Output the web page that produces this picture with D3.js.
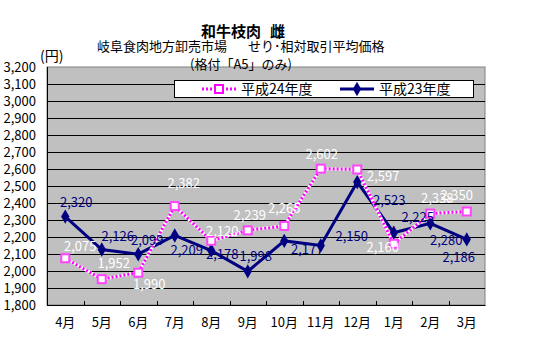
<!DOCTYPE html>
<html><head><meta charset="utf-8">
<script src="https://cdn.jsdelivr.net/npm/d3@7"></script>
<style>
html,body{margin:0;padding:0;background:#fff;}
svg{display:block;font-family:"Noto Sans CJK JP","Noto Sans",sans-serif;}
</style></head>
<body>
<script>
const months = ["4月","5月","6月","7月","8月","9月","10月","11月","12月","1月","2月","3月"];
const seriesNames = ["平成24年度","平成23年度"];
const values24 = [2075,1952,1990,2382,2178,2239,2265,2602,2597,2160,2338,2350];
const values23 = [2320,2126,2099,2209,2120,1998,2177,2150,2523,2225,2280,2186];
const labels24 = [2075,1952,1990,2382,2120,2239,2265,2602,2597,2160,2338,2350];
const labels23 = [2320,2126,2099,2209,2178,1998,2177,2150,2523,2225,2280,2186];
const yTicks = [1800,1900,2000,2100,2200,2300,2400,2500,2600,2700,2800,2900,3000,3100,3200];
const titleParts = ["和牛枝肉","雌"];
const subtitleParts = ["岐阜食肉地方卸売市場","せり･相対取引平均価格"];
const subtitle2 = "(格付「A5」のみ)";
const unitLabel = "(円)";

// label offsets (layout only)
const off24 = [[15,-12],[12,-16],[11,12],[9,-23],[11,-9],[2,-15],[0,-18],[1,-14],[26,7],[-11,4],[7,-15],[-10,-16]];
const off23 = [[11,-14],[16,-13],[9,-14],[12,15],[11,4],[8,-15],[23,8],[31,-9],[32,18],[24,-15],[16,17],[-8,18]];

const W=550,H=350;
const L=47,R=485,T=67,B=305;
const svg=d3.select("body").append("svg").attr("width",W).attr("height",H);
svg.append("rect").attr("width",W).attr("height",H).attr("fill","#fff");

const x=d3.scaleBand().domain(months).range([L,R]).padding(0);
const y=d3.scaleLinear().domain([1800,3200]).range([B,T]);
const cx=d=>x(d)+x.bandwidth()/2;

// plot area
svg.append("rect").attr("x",L).attr("y",T).attr("width",R-L).attr("height",B-T)
  .attr("fill","#C0C0C0").attr("stroke","#808080").attr("stroke-width",1);

// gridlines
svg.append("g").selectAll("line").data(yTicks.filter(v=>v>1800&&v<3200)).join("line")
  .attr("x1",L).attr("x2",R).attr("y1",d=>Math.round(y(d))+0.5).attr("y2",d=>Math.round(y(d))+0.5)
  .attr("stroke","#000").attr("stroke-width",1);

// axes lines
svg.append("line").attr("x1",L+0.5).attr("x2",L+0.5).attr("y1",T).attr("y2",B+0.5).attr("stroke","#000");
svg.append("line").attr("x1",L).attr("x2",R+0.5).attr("y1",B+0.5).attr("y2",B+0.5).attr("stroke","#000");

// x ticks (inside, at category boundaries)
svg.append("g").selectAll("line").data(months.slice(1)).join("line")
  .attr("x1",d=>Math.round(x(d))+0.5).attr("x2",d=>Math.round(x(d))+0.5)
  .attr("y1",B-4).attr("y2",B).attr("stroke","#000");

// y tick labels
svg.append("g").selectAll("text").data(yTicks).join("text")
  .attr("x",36).attr("y",d=>y(d)).attr("dy","0.36em").attr("text-anchor","end")
  .attr("font-size",13).attr("fill","#000").text(d=>d3.format(",")(d));

// x labels
svg.append("g").selectAll("text").data(months).join("text")
  .attr("x",d=>cx(d)).attr("y",322).attr("dy","0.36em").attr("text-anchor","middle")
  .attr("font-size",13).attr("fill","#000").text(d=>d);

// unit
svg.append("text").attr("x",40).attr("y",56).attr("dy","0.36em").attr("font-size",14).text(unitLabel);

// titles
svg.append("text").attr("x",201).attr("y",32).attr("dy","0.36em")
  .attr("font-size",15).attr("font-weight","bold").text(titleParts[0]);
svg.append("text").attr("x",270).attr("y",32).attr("dy","0.36em")
  .attr("font-size",15).attr("font-weight","bold").text(titleParts[1]);
svg.append("text").attr("x",97).attr("y",46).attr("dy","0.36em")
  .attr("font-size",13).text(subtitleParts[0]);
svg.append("text").attr("x",248).attr("y",46).attr("dy","0.36em")
  .attr("font-size",13).text(subtitleParts[1]);
svg.append("text").attr("x",241).attr("y",64).attr("dy","0.36em").attr("text-anchor","middle")
  .attr("font-size",13).text(subtitle2);

const line=d3.line().x((d,i)=>cx(months[i])).y(d=>y(d));

// series 23 (navy)
svg.append("path").attr("d",line(values23)).attr("fill","none").attr("stroke","#000080").attr("stroke-width",3);
const diamond=d3.symbol().type(d3.symbolDiamond).size(60);
svg.append("g").selectAll("path").data(values23).join("path")
  .attr("d",diamond).attr("transform",(d,i)=>`translate(${cx(months[i])},${y(d)})`).attr("fill","#000080");

// series 24 (pink dotted)
svg.append("path").attr("d",line(values24)).attr("fill","none").attr("stroke","#fff").attr("stroke-width",3);
svg.append("path").attr("d",line(values24)).attr("fill","none").attr("stroke","#FF00FF").attr("stroke-width",3).attr("stroke-dasharray","2,2");
svg.append("g").selectAll("rect").data(values24).join("rect")
  .attr("x",(d,i)=>cx(months[i])-4).attr("y",d=>y(d)-4).attr("width",8).attr("height",8)
  .attr("fill","#fff").attr("stroke","#FF44FF").attr("stroke-width",2);

// data labels
svg.append("g").selectAll("text").data(labels23).join("text")
  .attr("x",(d,i)=>cx(months[i])+off23[i][0]).attr("y",(d,i)=>y(values23[i])+off23[i][1])
  .attr("dy","0.36em").attr("text-anchor","middle").attr("font-size",13).attr("fill","#000080")
  .text(d=>d3.format(",")(d));
svg.append("g").selectAll("text").data(labels24).join("text")
  .attr("x",(d,i)=>cx(months[i])+off24[i][0]).attr("y",(d,i)=>y(values24[i])+off24[i][1])
  .attr("dy","0.36em").attr("text-anchor","middle").attr("font-size",13).attr("fill","#fff")
  .text(d=>d3.format(",")(d));

// legend
const lg=svg.append("g");
lg.append("rect").attr("x",174.5).attr("y",80.5).attr("width",299).attr("height",17).attr("fill","#fff").attr("stroke","#000");
lg.append("line").attr("x1",202).attr("x2",237).attr("y1",89).attr("y2",89).attr("stroke","#FF00FF").attr("stroke-width",3).attr("stroke-dasharray","2,2");
lg.append("rect").attr("x",215).attr("y",85).attr("width",8).attr("height",8).attr("fill","#fff").attr("stroke","#FF00FF").attr("stroke-width",2);
lg.append("text").attr("x",241).attr("y",89).attr("dy","0.36em").attr("font-size",14).text(seriesNames[0]);
lg.append("line").attr("x1",340).attr("x2",374).attr("y1",89).attr("y2",89).attr("stroke","#000080").attr("stroke-width",3);
lg.append("path").attr("d",diamond).attr("transform","translate(357,89)").attr("fill","#000080");
lg.append("text").attr("x",379).attr("y",89).attr("dy","0.36em").attr("font-size",14).text(seriesNames[1]);
</script>
</body></html>
